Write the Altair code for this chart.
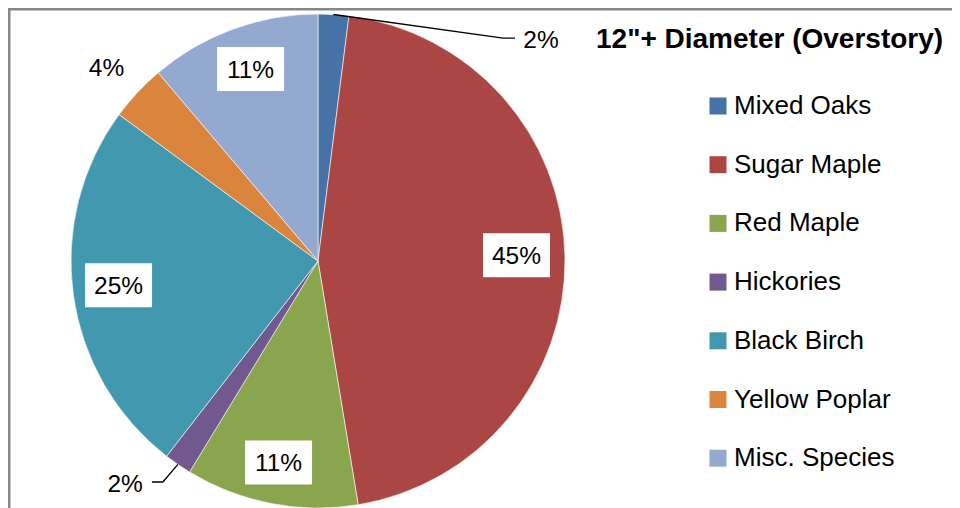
import math
import altair as alt
import pandas as pd

# ---- data ----
species = ["Mixed Oaks", "Sugar Maple", "Red Maple", "Hickories",
           "Black Birch", "Yellow Poplar", "Misc. Species"]
shares = [2.0, 45.4, 11.3, 1.8, 24.6, 3.7, 11.2]
title_text = '12"+ Diameter (Overstory)'

# ---- style / layout ----
colors = ["#4572A7", "#AA4643", "#89A54E", "#71588F",
          "#4198AF", "#DB843D", "#93A9CF"]
W, H = 944, 500
CX, CY, R = 310, 253, 247
FONT = "Liberation Sans"
label_r = [314.3, 198.6, 205.3, 294.2, 200.9, 286.5, 203.5]
label_dtheta = [41.6, -0.6, 0.1, 6.4, 1.0, -0.6, 0.8]
label_boxed = [False, True, True, False, True, False, True]
BOX_W, BOX_H = 67, 44
# leader lines: (radius, angle offset from slice middle in degrees, horizontal shift)
leaders = {
    "Mixed Oaks": [(R, 0, 0), (289.7, 36.1, 0), (289.7, 36.1, 12)],
    "Hickories": [(R, 0, 0), (270, 0.5, 0), (270, 0.5, -11)],
}

total = sum(shares)
mids = []
acc = 0.0
for v in shares:
    mids.append(2 * math.pi * (acc + v / 2) / total)
    acc += v


def polar(r, ang):
    return CX + r * math.sin(ang), CY - r * math.cos(ang)


rows = []
for i, (s, v) in enumerate(zip(species, shares)):
    ang = mids[i] + math.radians(label_dtheta[i])
    lx, ly = polar(label_r[i], ang)
    rows.append(dict(species=s, share=v, idx=i,
                     label=f"{round(v / total * 100)}%",
                     lx=lx, ly=ly, boxed=label_boxed[i],
                     bx1=lx - BOX_W / 2, bx2=lx + BOX_W / 2,
                     by1=ly - BOX_H / 2, by2=ly + BOX_H / 2))
df = pd.DataFrame(rows)

lrows = []
for s, pts in leaders.items():
    i = species.index(s)
    for k, (r, dt, dx) in enumerate(pts):
        x, y = polar(r, mids[i] + math.radians(dt))
        lrows.append(dict(species=s, k=k, x=x + dx, y=y))
ldf = pd.DataFrame(lrows)

xs = alt.Scale(domain=[0, W], nice=False, zero=False)
ys = alt.Scale(domain=[0, H], nice=False, zero=False, reverse=True)

arcs = alt.Chart(df).mark_arc(radius=R, stroke="white", strokeWidth=0.6).encode(
    theta=alt.Theta("share:Q", stack=True),
    color=alt.Color("species:N", scale=alt.Scale(domain=species, range=colors),
                    legend=alt.Legend(title=None, orient="none", legendX=697, legendY=85,
                                      symbolType="square", symbolSize=289,
                                      symbolStrokeWidth=0, labelFont=FONT,
                                      labelFontSize=26, labelColor="black",
                                      labelOffset=3, rowPadding=32.7, padding=0,
                                      labelLimit=400)),
    order=alt.Order("idx:Q", sort="ascending"),
    x=alt.value(CX), y=alt.value(CY),
)

boxes = alt.Chart(df).transform_filter("datum.boxed").mark_rect(color="white").encode(
    x=alt.X("bx1:Q", scale=xs, axis=None), x2="bx2:Q",
    y=alt.Y("by1:Q", scale=ys, axis=None), y2="by2:Q",
)

lines = alt.Chart(ldf).mark_line(color="black", strokeWidth=1.3).encode(
    x=alt.X("x:Q", scale=xs, axis=None),
    y=alt.Y("y:Q", scale=ys, axis=None),
    detail="species:N",
    order="k:Q",
)

texts = alt.Chart(df).mark_text(font=FONT, fontSize=24.5, color="black",
                                align="center", baseline="middle", dy=1.5).encode(
    x=alt.X("lx:Q", scale=xs, axis=None),
    y=alt.Y("ly:Q", scale=ys, axis=None),
    text="label:N",
)

title = alt.Chart(pd.DataFrame({"t": [title_text]})).mark_text(
    font=FONT, fontWeight="bold", fontSize=28, color="black",
    align="left", baseline="alphabetic").encode(
    x=alt.value(588), y=alt.value(40), text="t:N")

border_left = alt.Chart(pd.DataFrame({"a": [0]})).mark_rule(
    color="#878787", strokeWidth=2.5).encode(
    x=alt.value(1.25), y=alt.value(0), y2=alt.value(H))
border_top = alt.Chart(pd.DataFrame({"a": [0]})).mark_rule(
    color="#878787", strokeWidth=2.5).encode(
    y=alt.value(1.25), x=alt.value(0), x2=alt.value(W))

chart = alt.layer(arcs, boxes, lines, texts, title, border_left, border_top).properties(
    width=W, height=H, padding=0,
    autosize=alt.AutoSizeParams(type="none"),
).configure_view(stroke=None).configure(background="white")

chart.save("out.html", embed_options={"renderer": "svg", "actions": False})
